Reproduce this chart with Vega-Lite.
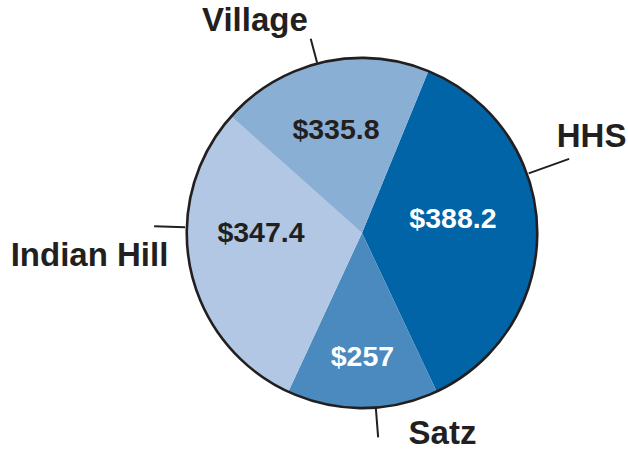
{
  "$schema": "https://vega.github.io/schema/vega-lite/v6.json",
  "width": 532,
  "height": 434,
  "autosize": {"type": "none"},
  "padding": {"left": 96, "top": 16, "right": 0, "bottom": 0},
  "background": "white",
  "config": {"view": {"stroke": null}, "text": {"font": "Liberation Sans", "fontWeight": "bold"}},
  "data": {"values": [
    {"school": "HHS", "amount": "$388.2", "angle": 132.5},
    {"school": "Satz", "amount": "$257", "angle": 50.1},
    {"school": "Indian Hill", "amount": "$347.4", "angle": 106.8},
    {"school": "Village", "amount": "$335.8", "angle": 70.6}
  ]},
  "transform": [
    {"window": [{"op": "row_number", "as": "rank"}]},
    {"stack": "angle", "groupby": [], "sort": [{"field": "rank", "order": "ascending"}], "as": ["s0", "s1"]}
  ],
  "layer": [
    {
      "mark": {"type": "arc", "radius": 175},
      "encoding": {
        "theta": {"field": "s0", "type": "quantitative", "scale": {"domain": [0, 360], "range": [0.3892, 6.6724]}},
        "theta2": {"field": "s1"},
        "color": {"field": "school", "type": "nominal", "legend": null,
          "scale": {"domain": ["HHS", "Satz", "Indian Hill", "Village"], "range": ["#0064a7", "#4a8abf", "#b1c7e3", "#8aafd5"]}}
      }
    },
    {
      "transform": [{"aggregate": [{"op": "sum", "field": "angle", "as": "total"}]}],
      "mark": {"type": "arc", "radius": 175, "filled": false, "fill": null, "stroke": "#231f20", "strokeWidth": 2.6},
      "encoding": {
        "theta": {"field": "total", "type": "quantitative", "stack": true, "scale": {"domain": [0, 360], "range": [0.3892, 6.6724]}}
      }
    },
    {
      "transform": [{"filter": "datum.school === 'Village'"}],
      "mark": {"type": "arc", "radius": 201, "radius2": 176, "thetaOffset": 0.585, "theta2Offset": 0.585, "filled": false, "stroke": "#231f20", "strokeWidth": 2},
      "encoding": {"theta": {"field": "s0", "type": "quantitative", "stack": null, "scale": {"domain": [0, 360], "range": [0.3892, 6.6724]}}, "theta2": {"field": "s0"}}
    },
    {
      "transform": [{"filter": "datum.school === 'HHS'"}],
      "mark": {"type": "arc", "radius": 220, "radius2": 177, "thetaOffset": 0.838, "theta2Offset": 0.838, "filled": false, "stroke": "#231f20", "strokeWidth": 2},
      "encoding": {"theta": {"field": "s0", "type": "quantitative", "stack": null, "scale": {"domain": [0, 360], "range": [0.3892, 6.6724]}}, "theta2": {"field": "s0"}}
    },
    {
      "transform": [{"filter": "datum.school === 'Indian Hill'"}],
      "mark": {"type": "arc", "radius": 208, "radius2": 177, "thetaOffset": 1.169, "theta2Offset": 1.169, "filled": false, "stroke": "#231f20", "strokeWidth": 2},
      "encoding": {"theta": {"field": "s0", "type": "quantitative", "stack": null, "scale": {"domain": [0, 360], "range": [0.3892, 6.6724]}}, "theta2": {"field": "s0"}}
    },
    {
      "transform": [{"filter": "datum.school === 'Satz'"}],
      "mark": {"type": "arc", "radius": 205, "radius2": 176, "thetaOffset": 0.361, "theta2Offset": 0.361, "filled": false, "stroke": "#231f20", "strokeWidth": 2},
      "encoding": {"theta": {"field": "s0", "type": "quantitative", "stack": null, "scale": {"domain": [0, 360], "range": [0.3892, 6.6724]}}, "theta2": {"field": "s0"}}
    },
    {
      "transform": [{"filter": "datum.school === 'Village'"}],
      "mark": {"type": "text", "radius": 237.5, "thetaOffset": 0.375, "fontSize": 33, "color": "#231f20"},
      "encoding": {"theta": {"field": "s0", "type": "quantitative", "stack": null, "scale": {"domain": [0, 360], "range": [0.3892, 6.6724]}}, "text": {"field": "school"}}
    },
    {
      "transform": [{"filter": "datum.school === 'HHS'"}],
      "mark": {"type": "text", "radius": 249, "thetaOffset": 0.784, "fontSize": 33, "color": "#231f20"},
      "encoding": {"theta": {"field": "s0", "type": "quantitative", "stack": null, "scale": {"domain": [0, 360], "range": [0.3892, 6.6724]}}, "text": {"field": "school"}}
    },
    {
      "transform": [{"filter": "datum.school === 'Indian Hill'"}],
      "mark": {"type": "text", "radius": 273.5, "thetaOffset": 1.051, "fontSize": 33, "color": "#231f20"},
      "encoding": {"theta": {"field": "s0", "type": "quantitative", "stack": null, "scale": {"domain": [0, 360], "range": [0.3892, 6.6724]}}, "text": {"field": "school"}}
    },
    {
      "transform": [{"filter": "datum.school === 'Satz'"}],
      "mark": {"type": "text", "radius": 216.5, "thetaOffset": 0.059, "fontSize": 33, "color": "#231f20"},
      "encoding": {"theta": {"field": "s0", "type": "quantitative", "stack": null, "scale": {"domain": [0, 360], "range": [0.3892, 6.6724]}}, "text": {"field": "school"}}
    },
    {
      "transform": [{"filter": "datum.school === 'Village'"}],
      "mark": {"type": "text", "radius": 106, "thetaOffset": 0.595, "fontSize": 28.5, "color": "#231f20"},
      "encoding": {"theta": {"field": "s0", "type": "quantitative", "stack": null, "scale": {"domain": [0, 360], "range": [0.3892, 6.6724]}}, "text": {"field": "amount"}}
    },
    {
      "transform": [{"filter": "datum.school === 'HHS'"}],
      "mark": {"type": "text", "radius": 92, "thetaOffset": 1.028, "fontSize": 28.5, "color": "#ffffff"},
      "encoding": {"theta": {"field": "s0", "type": "quantitative", "stack": null, "scale": {"domain": [0, 360], "range": [0.3892, 6.6724]}}, "text": {"field": "amount"}}
    },
    {
      "transform": [{"filter": "datum.school === 'Indian Hill'"}],
      "mark": {"type": "text", "radius": 101, "thetaOffset": 1.136, "fontSize": 28.5, "color": "#231f20"},
      "encoding": {"theta": {"field": "s0", "type": "quantitative", "stack": null, "scale": {"domain": [0, 360], "range": [0.3892, 6.6724]}}, "text": {"field": "amount"}}
    },
    {
      "transform": [{"filter": "datum.school === 'Satz'"}],
      "mark": {"type": "text", "radius": 124.5, "thetaOffset": 0.436, "fontSize": 28.5, "color": "#ffffff"},
      "encoding": {"theta": {"field": "s0", "type": "quantitative", "stack": null, "scale": {"domain": [0, 360], "range": [0.3892, 6.6724]}}, "text": {"field": "amount"}}
    }
  ]
}
